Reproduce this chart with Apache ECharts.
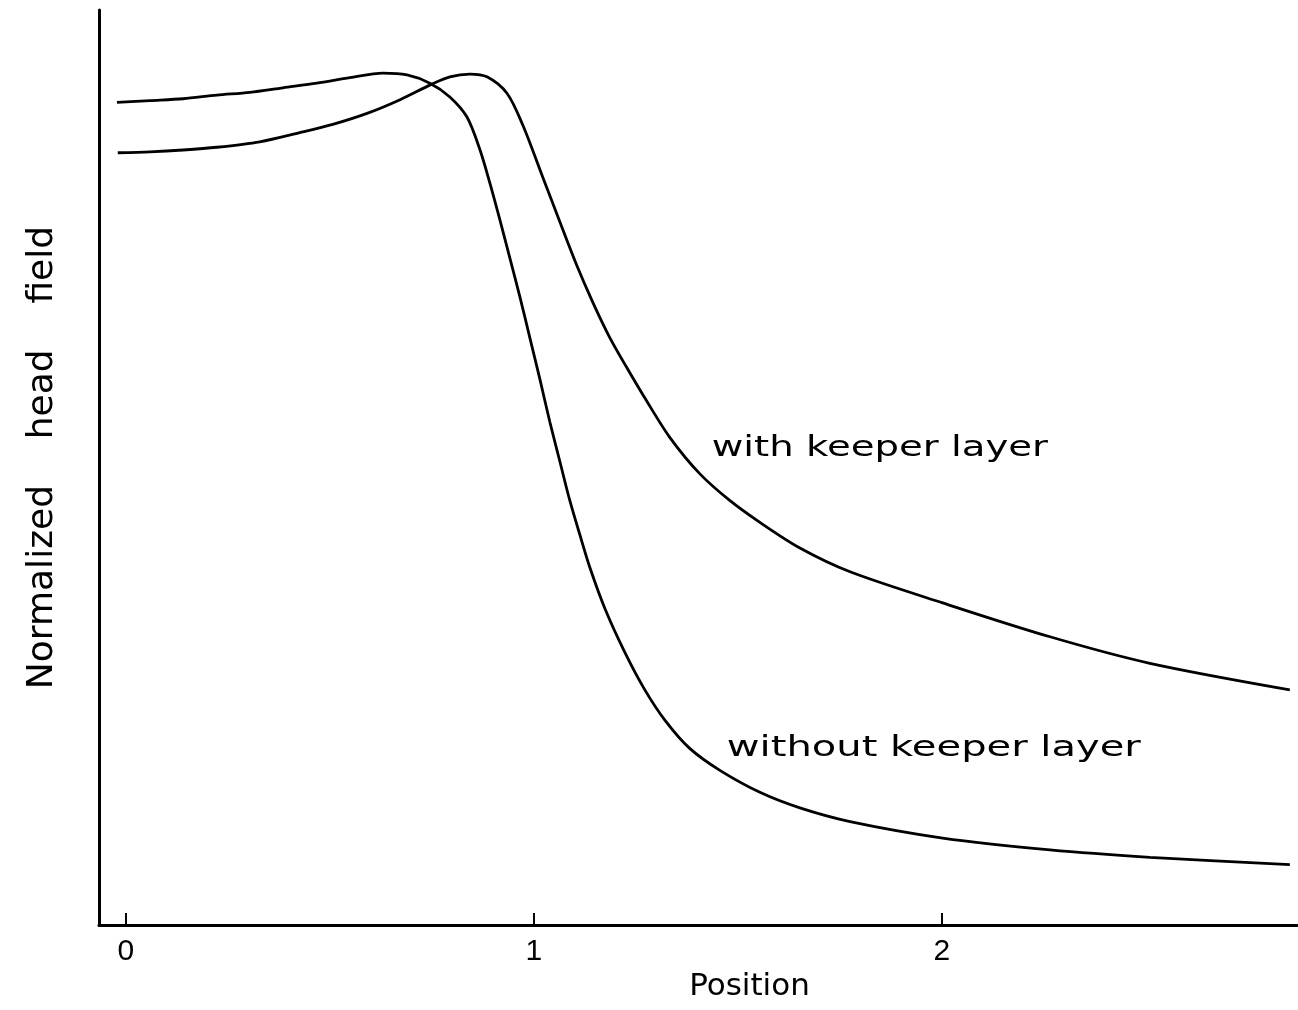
<!DOCTYPE html>
<html>
<head>
<meta charset="utf-8">
<script src="https://cdn.jsdelivr.net/npm/echarts@6/dist/echarts.min.js"></script>
<style>
html,body{margin:0;padding:0;background:#fff;}
#c{width:1298px;height:1010px;}
</style>
</head>
<body>
<div id="c"></div>
<script>
// ---- data ----
const xTickValues = [0, 1, 2];
const xAxisTitle = 'Position';
const yAxisTitle = 'Normalized    head    field';

const withoutKeeperX = [-0.022,0.059,0.140,0.223,0.304,0.385,0.468,0.549,0.630,0.689,0.745,0.794,0.836,0.868,0.892,0.917,0.941,0.966,0.990,1.015,1.039,1.064,1.088,1.113,1.137,1.174,1.223,1.272,1.321,1.382,1.456,1.554,1.652,1.775,2.002,2.265,2.510,2.853];
const withoutKeeperY = [0.899,0.901,0.903,0.907,0.910,0.915,0.920,0.926,0.931,0.929,0.920,0.905,0.883,0.847,0.811,0.770,0.729,0.686,0.642,0.596,0.550,0.506,0.464,0.426,0.391,0.346,0.298,0.257,0.224,0.193,0.169,0.145,0.128,0.113,0.095,0.082,0.074,0.066];

const withKeeperX = [-0.020,0.059,0.140,0.223,0.328,0.426,0.507,0.591,0.672,0.750,0.794,0.843,0.885,0.934,0.973,1.022,1.064,1.105,1.145,1.186,1.228,1.272,1.333,1.407,1.480,1.554,1.652,1.775,2.002,2.265,2.510,2.853];
const withKeeperY = [0.844,0.845,0.847,0.850,0.856,0.866,0.875,0.887,0.902,0.919,0.927,0.930,0.927,0.909,0.874,0.817,0.768,0.721,0.680,0.642,0.609,0.576,0.533,0.493,0.464,0.440,0.412,0.386,0.352,0.315,0.286,0.257];

const annotationTexts = ['with keeper layer', 'without keeper layer'];
const annotationAnchorX = [1.436, 1.473];
const annotationAnchorY = [0.521, 0.193];
const annotationStretch = [1.38, 1.43];

function pairs(xs, ys) { return xs.map((x, i) => [x, ys[i]]); }

const chart = echarts.init(document.getElementById('c'), null, {renderer: 'canvas'});

const option = {
  animation: false,
  backgroundColor: '#ffffff',
  grid: {left: 99, right: 0, top: 10, bottom: 85, containLabel: false},
  xAxis: {
    type: 'value',
    min: -0.066,
    max: 2.873,
    name: xAxisTitle,
    nameLocation: 'middle',
    nameGap: 42,
    nameTextStyle: {color: '#000', fontFamily: 'DejaVu Sans', fontSize: 31, padding: [0, 0, 0, 102]},
    axisLine: {show: true, onZero: false, lineStyle: {color: '#000', width: 3}},
    axisTick: {show: true, inside: true, length: 12, customValues: xTickValues, lineStyle: {color: '#000', width: 2}},
    axisLabel: {show: true, customValues: xTickValues, margin: 12, color: '#000', fontFamily: 'Liberation Sans', fontSize: 30},
    splitLine: {show: false}
  },
  yAxis: {
    type: 'value',
    min: 0,
    max: 1,
    name: yAxisTitle,
    nameLocation: 'middle',
    nameGap: 38,
    nameRotate: 90,
    nameTextStyle: {color: '#000', fontFamily: 'DejaVu Sans', fontSize: 36, padding: [0, 0, 0, 20]},
    axisLine: {show: true, onZero: false, lineStyle: {color: '#000', width: 3}},
    axisTick: {show: false},
    axisLabel: {show: false},
    splitLine: {show: false}
  },
  series: [
    {
      name: 'without keeper layer',
      type: 'line',
      data: pairs(withoutKeeperX, withoutKeeperY),
      showSymbol: false,
      symbol: 'none',
      smooth: 0.3,
      lineStyle: {color: '#000', width: 2.8}
    },
    {
      name: 'with keeper layer',
      type: 'line',
      data: pairs(withKeeperX, withKeeperY),
      showSymbol: false,
      symbol: 'none',
      smooth: 0.3,
      lineStyle: {color: '#000', width: 2.8}
    }
  ]
};
chart.setOption(option);

const graphics = annotationTexts.map((t, i) => {
  const p = chart.convertToPixel({gridIndex: 0}, [annotationAnchorX[i], annotationAnchorY[i]]);
  return {
    type: 'text',
    x: p[0],
    y: p[1],
    scaleX: annotationStretch[i],
    style: {
      text: t,
      fill: '#000',
      font: '28px "DejaVu Sans"',
      textAlign: 'left',
      textVerticalAlign: 'middle'
    }
  };
});
chart.setOption({graphic: graphics});
</script>
</body>
</html>
